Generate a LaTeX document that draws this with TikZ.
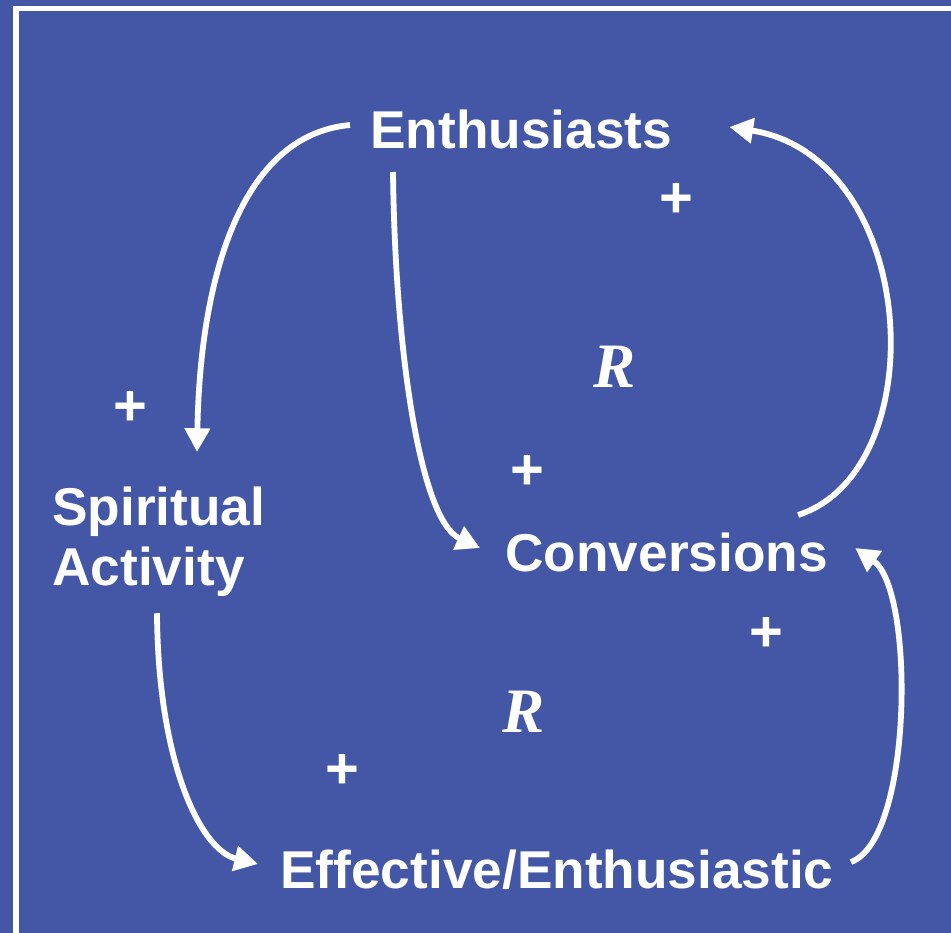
\documentclass[tikz,border=0pt]{standalone}
\usepackage{fontspec}
\setmainfont{Liberation Sans}
\newfontfamily\rserif{Liberation Serif}
\usetikzlibrary{arrows.meta}
\definecolor{slidebg}{RGB}{68,87,166}

\begin{document}
\begin{tikzpicture}[x=0.02cm, y=-0.02cm,
        label/.style={text=white, inner sep=0pt, font=\fontsize{30.3}{34.1}\selectfont\bfseries},
        sign/.style={text=white, inner sep=0pt, font=\fontsize{33}{36}\selectfont\bfseries},
        loopmark/.style={text=white, inner sep=0pt, font=\fontsize{36}{40}\selectfont\rserif\bfseries\itshape},
        link/.style={white, line width=3.3pt, -{Triangle[length=13.5pt, width=14pt]}}
      ]
      \useasboundingbox (0,0) rectangle (951,933);
      \fill[slidebg] (0,0) rectangle (951,933);
      \clip (0,0) rectangle (951,933);
      \draw[white, line width=3.4pt] (16,8.5) rectangle (970,950);

      \node[label, anchor=base west] (enth) at (370,148) {Enthusiasts};
      \node[label, anchor=north west, align=left] (spirit) at (52,487) {Spiritual\\Activity};
      \node[label, anchor=base west] (conv) at (505,571) {Conversions};
      \node[label, anchor=base west] (eff) at (280,888) {Effective/Enthusiastic};

      \node[sign] (p1) at (676,200) {+};
      \node[sign] (p2) at (130,408) {+};
      \node[sign] (p3) at (527,472) {+};
      \node[sign] (p4) at (766,634) {+};
      \node[sign] (p5) at (342,771) {+};
      \node[loopmark] (r1) at (615,367) {R};
      \node[loopmark] (r2) at (524,712) {R};

      \draw[link] ([shift={(-20,-23)}]enth.base west) .. controls +(-110,10) and +(3,-172) .. ([shift={(145,-35)}]spirit.north west);
      \draw[link] ([shift={(23,24)}]enth.base west) .. controls +(2,178) and +(-60,-28) .. ([shift={(-25,-23)}]conv.base west);
      \draw[link] ([shift={(-30,-56)}]conv.base east) .. controls +(138,-45) and +(190,30) .. ([shift={(57,-21)}]enth.base east);
      \draw[link] ([shift={(105,16)}]spirit.south west) .. controls +(1,148) and +(-58,-14) .. ([shift={(-22,-24)}]eff.base west);
      \draw[link] ([shift={(17,-26)}]eff.base east) .. controls +(62,-22) and +(60,42) .. ([shift={(27,-23)}]conv.base east);
    \end{tikzpicture}
\end{document}
